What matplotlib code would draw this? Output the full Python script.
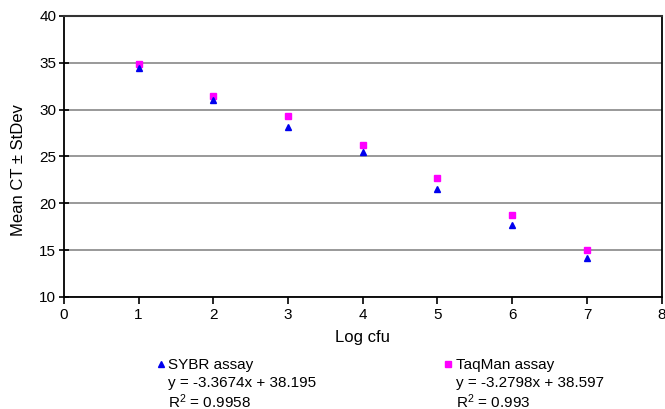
#!/usr/bin/env python3

import matplotlib
matplotlib.use("Agg")
import matplotlib.pyplot as plt
from matplotlib.lines import Line2D

plt.rcParams['font.family'] = ['Liberation Sans', 'DejaVu Sans']
plt.rcParams['mathtext.fontset'] = 'custom'
plt.rcParams['mathtext.rm'] = 'Liberation Sans'
plt.rcParams['mathtext.it'] = 'Liberation Sans'

log_cfu = [1, 2, 3, 4, 5, 6, 7]
sybr_ct = [34.4, 31.0, 28.1, 25.5, 21.5, 17.65, 14.15]
taqman_ct = [34.9, 31.45, 29.35, 26.2, 22.7, 18.7, 15.0]

sybr_eq = ["SYBR assay", "y = -3.3674x + 38.195", "R$^2$ = 0.9958"]
taqman_eq = ["TaqMan assay", "y = -3.2798x + 38.597", "R$^2$ = 0.993"]

blue = "#0000ee"
magenta = "#ff00ff"

fig = plt.figure(figsize=(6.65, 4.09), dpi=100)
ax = fig.add_axes([0.096, 0.274, 0.899, 0.687])

ax.set_xlim(0, 8)
ax.set_ylim(10, 40)
ax.set_yticks(range(10, 41, 5))
ax.set_xticks(range(0, 9))
ax.yaxis.grid(True, color="#888888", linewidth=1.2)
ax.set_axisbelow(True)

ax.plot(log_cfu, taqman_ct, linestyle="none", marker="s", markersize=4.5,
        color=magenta, label=taqman_eq[0])
ax.plot(log_cfu, sybr_ct, linestyle="none", marker="^", markersize=5,
        color=blue, label=sybr_eq[0])

for side in ["left", "bottom", "right"]:
    ax.spines[side].set_linewidth(1.3)
    ax.spines[side].set_color("black")
ax.spines["top"].set_color("#333333")
ax.spines["top"].set_linewidth(1.5)

ax.tick_params(axis="y", direction="inout", length=7, width=1.2, labelsize=11, pad=2)
ax.tick_params(axis="x", direction="out", length=5, width=1.2, labelsize=11, pad=3)

ax.set_xlabel("Log cfu", fontsize=12, labelpad=6)
ax.set_ylabel("Mean CT \u00b1 StDev", fontsize=12)
ax.yaxis.set_label_coords(-0.063, 0.45)

# legend area below the plot
for x_marker, x_text, marker, color, size, lines in [
        (0.242, 0.252, "^", blue, 4.5, sybr_eq),
        (0.674, 0.685, "s", magenta, 4, taqman_eq)]:
    fig.add_artist(Line2D([x_marker], [0.111], marker=marker, color=color,
                          markersize=size, linestyle="none",
                          transform=fig.transFigure))
    for i, line in enumerate(lines):
        fig.text(x_text, 0.107 - i * 0.044, line, fontsize=11, va="center")

fig.savefig("out.png", dpi=100)
